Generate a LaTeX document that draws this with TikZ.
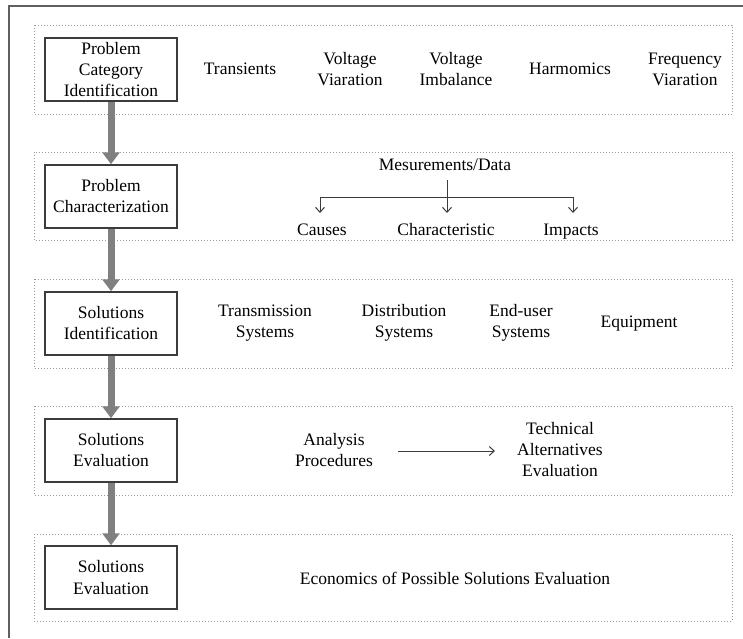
\documentclass[tikz,border=0pt]{standalone}
\usepackage{fontspec}
\setmainfont{Liberation Serif}
\usetikzlibrary{arrows.meta}
\definecolor{framegray}{HTML}{606060}
\definecolor{dotgray}{HTML}{9A9A9A}
\definecolor{boxgray}{HTML}{3C3C3C}
\definecolor{flowgray}{HTML}{808080}
\tikzset{
  stagebox/.style={draw=boxgray, line width=1.5pt, minimum width=132pt, minimum height=63pt, align=center, inner sep=0pt},
  groupbox/.style={draw=dotgray, line width=1pt, dotted},
  item/.style={align=center, inner sep=2pt},
  flow/.style={draw=flowgray, line width=7pt, -{Triangle[width=17pt,length=12pt]}},
  thinarrow/.style={draw=boxgray, line width=1pt, -{Straight Barb[length=5pt,width=9pt]}},
  thinline/.style={draw=boxgray, line width=1pt}
}
\begin{document}
\begin{tikzpicture}[x=1pt,y=-1pt,font=\fontsize{17.5}{21}\selectfont]
\useasboundingbox (0,0) rectangle (743,638);
\fill[white] (0,0) rectangle (743,638);
% outer frame
\draw[framegray, line width=2pt] (743,6) -- (9,6) -- (9,638);
% group boxes
\draw[groupbox] (34,25) rectangle (732,114);
\draw[groupbox] (34,152) rectangle (732,240);
\draw[groupbox] (34,279) rectangle (732,368);
\draw[groupbox] (34,406) rectangle (732,495);
\draw[groupbox] (34,534) rectangle (732,621);
% stage boxes
\node[stagebox] (b1) at (111,69.5) {Problem\\Category\\Identification};
\node[stagebox] (b2) at (111,196.5) {Problem\\Characterization};
\node[stagebox] (b3) at (111,323.5) {Solutions\\Identification};
\node[stagebox] (b4) at (111,450.5) {Solutions\\Evaluation};
\node[stagebox] (b5) at (111,577.5) {Solutions\\Evaluation};
% flow arrows
\draw[flow] (b1.south) -- (b2.north);
\draw[flow] (b2.south) -- (b3.north);
\draw[flow] (b3.south) -- (b4.north);
\draw[flow] (b4.south) -- (b5.north);
% row 1
\node[item] (t1) at (240,69) {Transients};
\node[item] (t2) at (350,69) {Voltage\\Viaration};
\node[item] (t3) at (456,69) {Voltage\\Imbalance};
\node[item] (t4) at (570,69) {Harmomics};
\node[item] (t5) at (685,69) {Frequency\\Viaration};
% row 2
\node[item] (m) at (445,165) {Mesurements/Data};
\node[item, anchor=base] (ca) at (322,235) {Causes};
\node[item, anchor=base] (ch) at (446,235) {Characteristic};
\node[item, anchor=base] (im) at (571,235) {Impacts};
\coordinate (jl) at (320,197);
\coordinate (jr) at (573,197);
\coordinate (jm) at (447,180);
\coordinate (tl) at (320,213);
\coordinate (tm) at (447,213);
\coordinate (tr) at (573,213);
\draw[thinline] (jl) -- (jr);
\draw[thinarrow] (jl) -- (tl);
\draw[thinarrow] (jr) -- (tr);
\draw[thinarrow] (jm) -- (tm);
% row 3
\node[item] (s1) at (265,323) {Transmission\\Systems};
\node[item] (s2) at (404,323) {Distribution\\Systems};
\node[item] (s3) at (521,323) {End-user\\Systems};
\node[item] (s4) at (639,324) {Equipment};
% row 4
\node[item] (ap) at (334,450) {Analysis\\Procedures};
\node[item] (tae) at (560,449.5) {Technical\\Alternatives\\Evaluation};
\coordinate (as) at (398,451);
\coordinate (ae) at (495,451);
\draw[thinarrow] (as) -- (ae);
% row 5
\node[item] (ec) at (455,578) {Economics of Possible Solutions Evaluation};
\end{tikzpicture}
\end{document}
